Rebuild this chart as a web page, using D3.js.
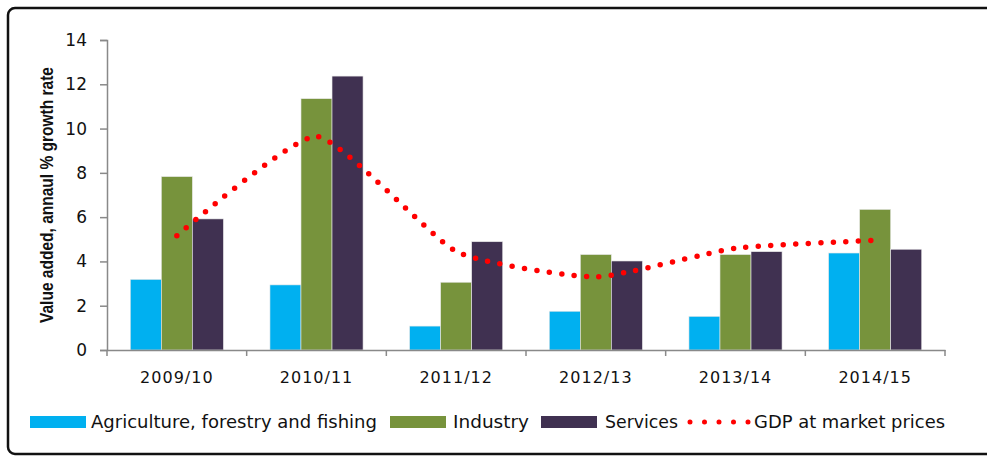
<!DOCTYPE html>
<html>
<head>
<meta charset="utf-8">
<script src="https://cdn.jsdelivr.net/npm/d3@7"></script>
<style>
  body { margin: 0; background: #fff; }
  svg { display: block; font-family: "DejaVu Sans", sans-serif; }
</style>
</head>
<body>
<svg width="987" height="456"></svg>
<script>
// values
let years = ["2009/10", "2010/11", "2011/12", "2012/13", "2013/14", "2014/15"];
let agriculture = [3.19, 2.94, 1.08, 1.75, 1.52, 4.38];
let industry = [7.83, 11.35, 3.06, 4.31, 4.31, 6.35];
let services = [5.92, 12.37, 4.89, 4.02, 4.44, 4.55];
let gdp = [5.16, 9.65, 4.45, 3.3, 4.6, 4.95];
let yTicks = [0, 2, 4, 6, 8, 10, 12, 14];

let seriesNames = ["Agriculture, forestry and fishing", "Industry", "Services"];
let seriesValues = [agriculture, industry, services];
let colors = ["#00b0f0", "#77933c", "#403151"];
let gdpName = "GDP at market prices";

let svg = d3.select("svg");

// frame round the chart
svg.append("rect")
  .attr("x", 8)
  .attr("y", 8)
  .attr("width", 990)
  .attr("height", 446)
  .attr("rx", 7)
  .attr("fill", "none")
  .attr("stroke", "#111")
  .attr("stroke-width", 2.5);

var margin = { left: 107, right: 42, top: 40, bottom: 106 };
let width = 987 - margin.left - margin.right;
let height = 456 - margin.top - margin.bottom;

var x0 = d3.scaleBand().domain(years).range([0, width]);
var x1 = d3
  .scaleBand()
  .domain(seriesNames)
  .range([0, x0.bandwidth()])
  .paddingOuter(0.75);
var yScale = d3.scaleLinear().domain([0, 14]).range([height, 0]);

var g = svg
  .append("g")
  .attr("transform", "translate(" + margin.left + "," + margin.top + ")");

// bars
seriesValues.forEach(function(vals, s) {
  g.selectAll(".bar" + s)
    .data(vals)
    .enter()
    .append("rect")
    .attr("class", "bar" + s)
    .attr("x", (d, i) => x0(years[i]) + x1(seriesNames[s]))
    .attr("width", x1.bandwidth())
    .attr("y", d => yScale(d))
    .attr("height", d => height - yScale(d))
    .attr("fill", colors[s])
    .attr("stroke", "#e8e8e8")
    .attr("stroke-width", 0.6);
});

// axes
var axisColor = "#898989";

var yAxis = d3.axisLeft(yScale).tickValues(yTicks).tickSize(7).tickPadding(13);
var gy = g.append("g").attr("class", "y axis").call(yAxis);
gy.select(".domain").attr("stroke", axisColor).attr("stroke-width", 1.5);
gy.selectAll(".tick line").attr("stroke", axisColor).attr("stroke-width", 1.5);
gy.selectAll(".tick text")
  .attr("font-size", "17px")
  .attr("font-family", "DejaVu Sans, sans-serif")
  .attr("fill", "#111");

var xAxis = d3.axisBottom(x0).tickSize(0).tickPadding(22);
var gx = g
  .append("g")
  .attr("class", "x axis")
  .attr("transform", "translate(0," + height + ")")
  .call(xAxis);
gx.select(".domain").attr("stroke", axisColor).attr("stroke-width", 1.5);
gx.selectAll(".tick text")
  .attr("font-size", "16px")
  .attr("font-family", "DejaVu Sans, sans-serif")
  .style("letter-spacing", "1px")
  .attr("fill", "#111");

// category boundary ticks
gx.selectAll(".bound")
  .data(d3.range(years.length + 1))
  .enter()
  .append("line")
  .attr("class", "bound")
  .attr("x1", i => i * x0.step())
  .attr("x2", i => i * x0.step())
  .attr("y1", 0)
  .attr("y2", 6)
  .attr("stroke", axisColor)
  .attr("stroke-width", 1.5);

// y title
g.append("text")
  .attr("transform", "rotate(-90)")
  .attr("x", -155)
  .attr("y", -54)
  .attr("text-anchor", "middle")
  .attr("font-family", "Liberation Sans Narrow, Liberation Sans, sans-serif")
  .attr("font-weight", "bold")
  .attr("font-size", "19px")
  .attr("textLength", 256)
  .attr("lengthAdjust", "spacingAndGlyphs")
  .attr("fill", "#111")
  .text("Value added, annaul % growth rate");

// GDP dotted smooth line (low tension, close to excel's smoothing)
var line = d3
  .line()
  .curve(d3.curveCardinal.tension(0.5))
  .x((d, i) => x0(years[i]) + x0.bandwidth() / 2)
  .y(d => yScale(d));

g.append("path")
  .attr("d", line(gdp))
  .attr("fill", "none")
  .attr("stroke", "#ff0000")
  .attr("stroke-width", 5.5)
  .attr("stroke-linecap", "round")
  .attr("stroke-dasharray", "0,12.5");

// legend
var legendY = 422;
var legend = svg.append("g").attr("class", "legend");
var swatchX = [30, 390, 541];
var textX = [91, 453, 605];
var textW = [286, 76, 73];

seriesNames.forEach(function(name, s) {
  legend
    .append("rect")
    .attr("x", swatchX[s])
    .attr("y", legendY - 6)
    .attr("width", 56)
    .attr("height", 12)
    .attr("fill", colors[s]);
  legend
    .append("text")
    .attr("x", textX[s])
    .attr("y", legendY)
    .attr("dy", "0.35em")
    .attr("font-size", "17px")
    .attr("textLength", textW[s])
    .attr("lengthAdjust", "spacingAndGlyphs")
    .attr("fill", "#111")
    .text(name);
});

legend
  .append("line")
  .attr("x1", 690)
  .attr("x2", 749)
  .attr("y1", legendY)
  .attr("y2", legendY)
  .attr("stroke", "#ff0000")
  .attr("stroke-width", 5)
  .attr("stroke-linecap", "round")
  .attr("stroke-dasharray", "0,14.5");

legend
  .append("text")
  .attr("x", 754)
  .attr("y", legendY)
  .attr("dy", "0.35em")
  .attr("font-size", "17px")
  .attr("textLength", 191)
  .attr("lengthAdjust", "spacingAndGlyphs")
  .attr("fill", "#111")
  .text(gdpName);
</script>
</body>
</html>
